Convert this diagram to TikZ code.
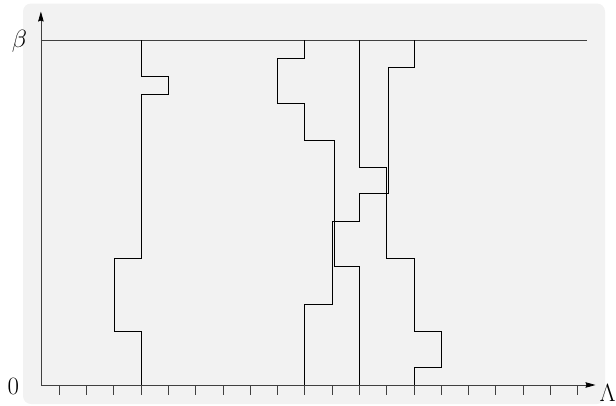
\documentclass[tikz,border=0pt]{standalone}
\usetikzlibrary{arrows.meta}
\tikzset{
  worldline/.style={draw=black,line width=0.8pt,line join=miter},
  axisline/.style={draw=black!75,line width=0.8pt,-{Stealth[length=10pt,width=5.5pt,inset=1pt,black]}},
  tickmark/.style={draw=black!75,line width=0.8pt},
  axislabel/.style={inner sep=0pt,outer sep=0pt,font=\fontsize{23}{27}\selectfont},
}
\begin{document}
\begin{tikzpicture}[x=1pt,y=-1pt]
\path[use as bounding box] (0,0) rectangle (616,405);
\path[fill=black!5,draw=none,rounded corners=8pt] (23,3.5) rectangle (605,404);
% axes
\coordinate (origin) at (40.9,385);
\coordinate (ytip) at (40.9,11.5);
\coordinate (xtip) at (595.5,385);
\coordinate (betaleft) at (40.9,40);
\coordinate (betaright) at (586.7,40);
\draw[axisline] (origin) -- (ytip);
\draw[axisline] (origin) -- (xtip);
\draw[tickmark] (betaleft) -- (betaright);
\foreach \i in {0,...,19}
  \draw[tickmark] ({59.3+27.28*\i},385) -- ++(0,9.5);
\node[axislabel] (betalabel) at (19.5,41.5) {$\beta$};
\node[axislabel] (zerolabel) at (13.3,386.5) {$0$};
\node[axislabel,anchor=north west] (lambdalabel) at (599.5,384) {$\Lambda$};
% world lines
\draw[worldline] (141.1,40) -- (141.1,76.3) -- (168.4,76.3) -- (168.4,94.7) -- (141.1,94.7)
  -- (141.1,258) -- (113.9,258) -- (113.9,331) -- (141.1,331) -- (141.1,385);
\draw[worldline] (304.8,40) -- (304.8,58) -- (277.5,58) -- (277.5,103.7) -- (304.8,103.7)
  -- (304.8,140) -- (334.7,140) -- (334.7,266.7) -- (359.4,266.7) -- (359.4,385);
\draw[worldline] (359.4,40) -- (359.4,167.3) -- (386.7,167.3) -- (386.7,258) -- (413.9,258)
  -- (413.9,331) -- (441.2,331) -- (441.2,367.3) -- (413.9,367.3) -- (413.9,385);
\draw[worldline] (413.9,40) -- (413.9,67.3) -- (388.7,67.3) -- (388.7,193.3) -- (359.4,193.3)
  -- (359.4,221.7) -- (332.1,221.7) -- (332.1,304) -- (304.8,304) -- (304.8,385);
\end{tikzpicture}
\end{document}
